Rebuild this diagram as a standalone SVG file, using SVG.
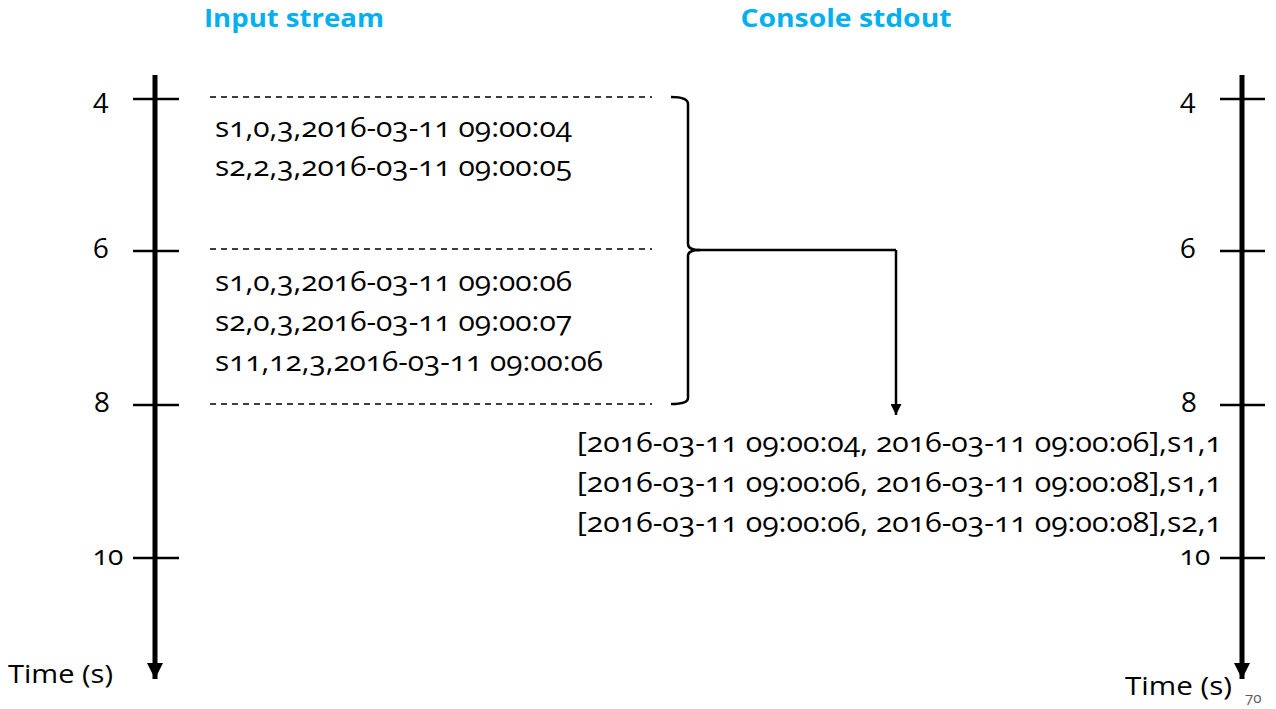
<svg xmlns="http://www.w3.org/2000/svg" width="1276" height="709" viewBox="0 0 1276 709">
<style>
text{font-family:"Open Sans","Liberation Sans",sans-serif;fill:#000;font-feature-settings:"onum" 1;}
.title{font-weight:bold;fill:#00B0F0;font-size:25px;text-anchor:middle;}
.data{font-size:27px;}
.time{font-size:25px;}
.tl{font-size:28px;text-anchor:middle;}
.axis{stroke:#000;stroke-width:5;fill:none;}
.tick{stroke:#000;stroke-width:2.5;}
.dash{stroke:#000;stroke-width:1.6;stroke-dasharray:6,5;}
.conn{stroke:#000;stroke-width:2.5;fill:none;}
</style>
<defs>
<marker id="bigArrow" viewBox="0 0 16 16" refX="16" refY="8" markerWidth="16" markerHeight="16" markerUnits="userSpaceOnUse" orient="auto"><path d="M0,0 L16,8 L0,16 Z" fill="#000"/></marker>
<marker id="smallArrow" viewBox="0 0 11 11" refX="11" refY="5.5" markerWidth="11" markerHeight="11" markerUnits="userSpaceOnUse" orient="auto"><path d="M0,0 L11,5.5 L0,11 Z" fill="#000"/></marker>
</defs>
<text class="title" x="294" y="27" textLength="180" lengthAdjust="spacingAndGlyphs">Input stream</text>
<text class="title" x="846" y="27" textLength="211" lengthAdjust="spacingAndGlyphs">Console stdout</text>
<g id="left-axis">
<line class="axis" x1="155" y1="75" x2="155" y2="679" marker-end="url(#bigArrow)"/>
<line class="tick" x1="133" y1="99" x2="179" y2="99"/>
<line class="tick" x1="133" y1="251" x2="179" y2="251"/>
<line class="tick" x1="133" y1="405" x2="179" y2="405"/>
<line class="tick" x1="133" y1="558" x2="179" y2="558"/>
<text class="tl" x="101" y="108">4</text>
<text class="tl" x="101" y="258">6</text>
<text class="tl" x="102" y="412">8</text>
<text class="tl" x="108" y="565">10</text>
<text class="time" x="8" y="683" textLength="105" lengthAdjust="spacingAndGlyphs">Time (s)</text>
</g>
<g id="right-axis">
<line class="axis" x1="1242" y1="75" x2="1242" y2="679" marker-end="url(#bigArrow)"/>
<line class="tick" x1="1220" y1="99" x2="1265" y2="99"/>
<line class="tick" x1="1220" y1="251" x2="1265" y2="251"/>
<line class="tick" x1="1220" y1="405" x2="1265" y2="405"/>
<line class="tick" x1="1220" y1="558" x2="1265" y2="558"/>
<text class="tl" x="1188" y="108">4</text>
<text class="tl" x="1188" y="258">6</text>
<text class="tl" x="1189" y="412">8</text>
<text class="tl" x="1195" y="565">10</text>
<text class="time" x="1125" y="695" textLength="107" lengthAdjust="spacingAndGlyphs">Time (s)</text>
</g>
<g id="input-stream">
<line class="dash" x1="210" y1="97" x2="652" y2="97"/>
<line class="dash" x1="210" y1="249" x2="652" y2="249"/>
<line class="dash" x1="210" y1="404" x2="652" y2="404"/>
<text class="data" x="215" y="137" textLength="357" lengthAdjust="spacingAndGlyphs">s1,0,3,2016-03-11 09:00:04</text>
<text class="data" x="215" y="176" textLength="357" lengthAdjust="spacingAndGlyphs">s2,2,3,2016-03-11 09:00:05</text>
<text class="data" x="215" y="291" textLength="357" lengthAdjust="spacingAndGlyphs">s1,0,3,2016-03-11 09:00:06</text>
<text class="data" x="215" y="331" textLength="357" lengthAdjust="spacingAndGlyphs">s2,0,3,2016-03-11 09:00:07</text>
<text class="data" x="215" y="371" textLength="388" lengthAdjust="spacingAndGlyphs">s11,12,3,2016-03-11 09:00:06</text>
</g>
<g id="connectors">
<path class="conn" d="M671,97 Q688,97 688,104 L688,244 Q688,250 700,250 L896,250"/>
<path class="conn" d="M671,404 Q688,404 688,398 L688,256 Q688,250 700,250"/>
<line class="conn" x1="896" y1="250" x2="896" y2="415" marker-end="url(#smallArrow)"/>
</g>
<g id="console-output">
<text class="data" x="577" y="452" textLength="645" lengthAdjust="spacingAndGlyphs">[2016-03-11 09:00:04, 2016-03-11 09:00:06],s1,1</text>
<text class="data" x="577" y="492" textLength="645" lengthAdjust="spacingAndGlyphs">[2016-03-11 09:00:06, 2016-03-11 09:00:08],s1,1</text>
<text class="data" x="577" y="532" textLength="645" lengthAdjust="spacingAndGlyphs">[2016-03-11 09:00:06, 2016-03-11 09:00:08],s2,1</text>
</g>
<text x="1245" y="703" font-size="15" style="fill:#595959">70</text>
</svg>
